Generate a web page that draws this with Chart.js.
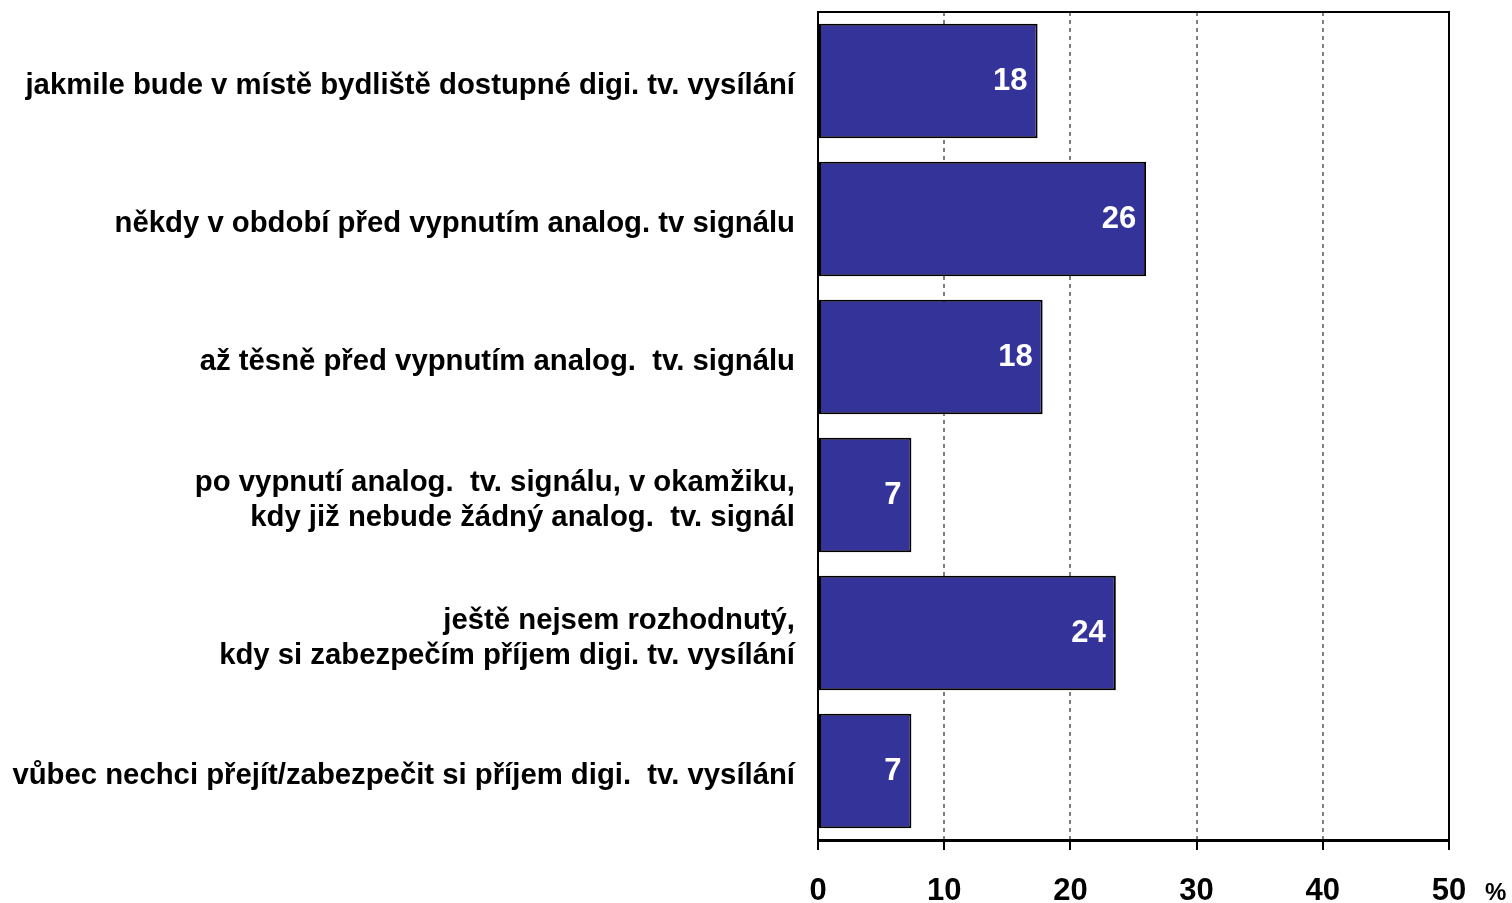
<!DOCTYPE html>
<html>
<head>
<meta charset="utf-8">
<script src="https://cdn.jsdelivr.net/npm/chart.js@4"></script>
<style>
  html, body { margin: 0; padding: 0; background: #fff; }
  #wrap { width: 1512px; height: 903px; }
</style>
</head>
<body>
<div id="wrap"><canvas id="chart" width="1512" height="903"></canvas></div>
<script>
const categories = [
    'jakmile bude v místě bydliště dostupné digi. tv. vysílání',
    'někdy v období před vypnutím analog. tv signálu',
    'až těsně před vypnutím analog.  tv. signálu',
    ['po vypnutí analog.  tv. signálu, v okamžiku,', 'kdy již nebude žádný analog.  tv. signál'],
    ['ještě nejsem rozhodnutý,', 'kdy si zabezpečím příjem digi. tv. vysílání'],
    'vůbec nechci přejít/zabezpečit si příjem digi.  tv. vysílání'
];
const values = [17.4, 26.0, 17.8, 7.4, 23.6, 7.4];
const shownLabels = ['18', '26', '18', '7', '24', '7'];
const xTicks = [0, 10, 20, 30, 40, 50];
const unitLabel = '%';

const barColor = '#333399';

// value labels, frame and unit sign
const extras = {
    id: 'extras',
    afterDatasetsDraw(chart) {
        const ctx = chart.ctx;
        const meta = chart.getDatasetMeta(0);
        ctx.save();
        ctx.fillStyle = '#fff';
        ctx.font = 'bold 31px "Liberation Sans", Arial, sans-serif';
        ctx.textAlign = 'right';
        ctx.textBaseline = 'middle';
        meta.data.forEach((bar, i) => {
            ctx.fillText(shownLabels[i], bar.x - 10, bar.y);
        });
        ctx.restore();
    },
    afterDraw(chart) {
        const ctx = chart.ctx;
        const a = chart.chartArea;
        ctx.save();
        ctx.strokeStyle = '#000';
        ctx.lineWidth = 2;
        ctx.beginPath();
        ctx.moveTo(a.left, a.top);
        ctx.lineTo(a.right, a.top);
        ctx.lineTo(a.right, a.bottom);
        ctx.stroke();
        ctx.fillStyle = '#000';
        ctx.font = 'bold 24px "Liberation Sans", Arial, sans-serif';
        ctx.textAlign = 'left';
        ctx.textBaseline = 'middle';
        ctx.fillText(unitLabel, a.right + 36, a.bottom + 53);
        ctx.restore();
    }
};

new Chart(document.getElementById('chart').getContext('2d'), {
    type: 'bar',
    data: {
        labels: categories,
        datasets: [{
            data: values,
            backgroundColor: barColor,
            borderColor: '#000',
            borderWidth: 2,
            borderSkipped: false,
            categoryPercentage: 0.83,
            barPercentage: 1.0
        }]
    },
    options: {
        indexAxis: 'y',
        responsive: false,
        animation: false,
        layout: { padding: { top: 12, right: 63, left: 0, bottom: 0 } },
        plugins: {
            legend: { display: false },
            tooltip: { enabled: false }
        },
        scales: {
            x: {
                min: 0,
                max: 50,
                afterBuildTicks(axis) {
                    axis.ticks = xTicks.map(v => ({ value: v }));
                },
                afterFit(axis) { axis.height = 63; },
                border: { display: true, color: '#000', width: 3, dash: [4, 4] },
                grid: {
                    color: '#808080',
                    lineWidth: 2,
                    tickColor: '#000',
                    tickBorderDash: [],
                    tickWidth: 2,
                    tickLength: 10
                },
                ticks: {
                    color: '#000',
                    padding: 23,
                    maxRotation: 0,
                    font: { family: '"Liberation Sans", Arial, sans-serif', size: 31, weight: 'bold' }
                }
            },
            y: {
                afterFit(axis) {
                    axis.width = 818;
                    axis.paddingTop = 0;
                    axis.paddingBottom = 0;
                },
                border: { display: true, color: '#000', width: 2 },
                grid: { display: false },
                ticks: {
                    color: '#000',
                    padding: 15,
                    labelOffset: 5,
                    font: { family: '"Liberation Sans", Arial, sans-serif', size: 29.3, weight: 'bold' },
                    lineHeight: 1.17
                }
            }
        }
    },
    plugins: [extras]
});
</script>
</body>
</html>
